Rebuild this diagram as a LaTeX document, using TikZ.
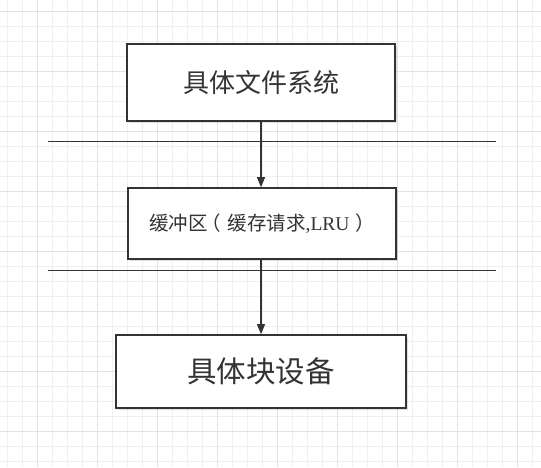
\documentclass[tikz,border=0pt]{standalone}
\usepackage{fontspec}
\setmainfont{Liberation Serif}
\newfontfamily\cjk{Noto Sans CJK SC}
\usetikzlibrary{arrows.meta,shadows}
\definecolor{inkgray}{HTML}{333333}
\definecolor{gridminor}{HTML}{EFEFEF}
\definecolor{gridmajor}{HTML}{E3E3E3}
\tikzset{
  layerbox/.style={draw=inkgray, line width=1.6pt, fill=white, text=inkgray,
    drop shadow={shadow xshift=1.5pt, shadow yshift=-1.5pt, fill=black, opacity=0.12}},
  flow/.style={-{Triangle[length=10pt,width=8pt]}, draw=inkgray, fill=inkgray, line width=1.3pt},
  divider/.style={draw=inkgray, line width=1pt}
}
\begin{document}
\begin{tikzpicture}[x=1pt,y=-1pt]
  \useasboundingbox (0,0) rectangle (541,467);
  \fill[white] (0,0) rectangle (541,467);

  % background grid
  \foreach \gx in {7,22,...,537} \draw[gridminor, line width=0.8pt] (\gx,0) -- (\gx,467);
  \foreach \gy in {11,26,...,466} \draw[gridminor, line width=0.8pt] (0,\gy) -- (541,\gy);
  \foreach \gx in {37,97,...,517} \draw[gridmajor, line width=0.8pt] (\gx,0) -- (\gx,467);
  \foreach \gy in {11,71,...,431} \draw[gridmajor, line width=0.8pt] (0,\gy) -- (541,\gy);

  % layers
  \node[layerbox, minimum width=268pt, minimum height=77pt, font=\cjk\fontsize{26}{30}\selectfont] (fs) at (261,82.5) {具体文件系统};
  \node[layerbox, minimum width=268pt, minimum height=71pt, font=\fontsize{19.5}{23}\selectfont] (buf) at (262,223.5) {{\cjk 缓冲区\kern-0.32em（\kern0.35em 缓存请求},LRU{\cjk\hspace{0.3em}）}};
  \node[layerbox, minimum width=290pt, minimum height=73pt, font=\cjk\fontsize{29.5}{34}\selectfont] (dev) at (261,371.5) {具体块设备};

  % boundaries
  \coordinate (upL) at (48,141);
  \coordinate (upR) at (496,141);
  \coordinate (loL) at (48,270);
  \coordinate (loR) at (496,270);
  \draw[divider] (upL) -- (upR);
  \draw[divider] (loL) -- (loR);

  \draw[flow] (fs.south) -- (fs.south |- buf.north);
  \draw[flow] (fs.south |- buf.south) -- (fs.south |- dev.north);
\end{tikzpicture}
\end{document}
